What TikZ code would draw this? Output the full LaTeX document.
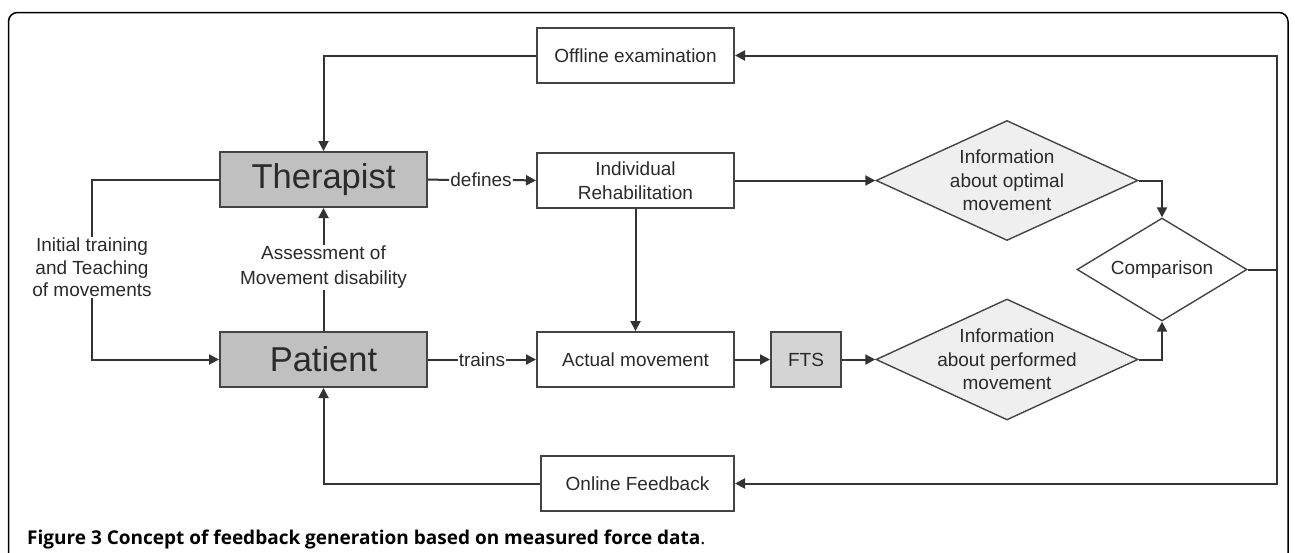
\documentclass[tikz,border=0pt]{standalone}
\usepackage{fontspec}
\setmainfont{Liberation Sans}
\newfontfamily\capfont{Open Sans}
\usetikzlibrary{arrows.meta,shapes.geometric}
\definecolor{linec}{HTML}{333333}
\definecolor{boxc}{HTML}{444444}
\definecolor{txtc}{HTML}{2A2A2A}
\definecolor{grayfill}{HTML}{C0C0C0}
\definecolor{ftsfill}{HTML}{D4D4D4}
\definecolor{diafill}{HTML}{EFEFEF}
\begin{document}
\begin{tikzpicture}[x=1pt,y=-1pt,
  txt/.style={font=\fontsize{19}{23.5}\selectfont, text=txtc, align=center},
  box/.style={txt, draw=boxc, line width=2pt, minimum width=197pt, minimum height=55pt, inner sep=0pt},
  bigbox/.style={box, fill=grayfill, minimum width=207pt, font=\fontsize{34.5}{38}\selectfont},
  dia/.style={diamond, draw=boxc, line width=1.4pt, inner sep=0pt},
  lab/.style={txt, inner sep=1pt},
  conn/.style={draw=linec, line width=2pt},
  arr/.style={conn, -{Triangle[length=10pt,width=10pt]}}
]
\useasboundingbox (0,0) rectangle (1295,552);
% frame
\draw[line width=1.5pt, rounded corners=9pt] (8.5,560) -- (8.5,12.5) -- (1288,12.5) -- (1288,560);

% nodes
\node[bigbox] (ther) at (323.5,179.5) {Therapist};
\node[bigbox] (pat) at (323.5,359.5) {Patient};
\node[box] (off) at (635.5,55.5) {Offline examination};
\node[box] (ind) at (635.5,180.5) {Individual\\Rehabilitation};
\node[box] (act) at (635.5,359.5) {Actual movement};
\node[box, minimum width=193pt] (onl) at (637.5,483.5) {Online Feedback};
\node[box, fill=ftsfill, minimum width=70pt] (fts) at (806,359.5) {FTS};

\node[dia, fill=diafill, minimum width=262pt, minimum height=120pt] (opt) at (1007,180.5) {};
\node[txt] at (opt) {Information\\about optimal\\movement};
\node[dia, fill=diafill, minimum width=262pt, minimum height=121pt] (perf) at (1007,359.5) {};
\node[txt] at (perf) {Information\\about performed\\movement};
\node[dia, fill=white, minimum width=170pt, minimum height=103pt] (cmp) at (1162,269.5) {};
\node[txt] at (cmp) {Comparison};

\node[lab, font=\fontsize{19}{22.5}\selectfont] (init) at (92,267.5) {Initial training\\and Teaching\\of movements};
\node[lab, font=\fontsize{19}{25}\selectfont] (asm) at (323.5,267.5) {Assessment of\\Movement disability};
\node[lab] (def) at (481,180) {defines};
\node[lab] (trn) at (482,359.5) {trains};
\coordinate (rt) at (1277,269.5);

% connectors
\draw[arr] (off.west) -| (ther.north);
\draw[conn] (ther.west) -| (init.north);
\draw[arr] (init.south) |- (pat.west);
\draw[arr] (asm.north) -- (ther.south);
\draw[conn] (asm.south) -- (pat.north);
\draw[conn] (ther.east) -- (def.west);
\draw[arr] (def.east) -- (ind.west);
\draw[conn] (pat.east) -- (trn.west);
\draw[arr] (trn.east) -- (act.west);
\draw[arr] (ind.south) -- (act.north);
\draw[arr] (ind.east) -- (opt.west);
\draw[arr] (act.east) -- (fts.west);
\draw[arr] (fts.east) -- (perf.west);
\draw[arr] (opt.east) -| (cmp.north);
\draw[arr] (perf.east) -| (cmp.south);
\draw[conn] (cmp.east) -- (rt);
\draw[arr] (rt) |- (off.east);
\draw[arr] (rt) |- (onl.east);
\draw[arr] (onl.west) -| (pat.south);

% caption
\node[anchor=base west, inner sep=0pt, font=\capfont\fontsize{19}{22}\selectfont] (cap) at (27,544) {\textbf{Figure 3 Concept of feedback generation based on measured force data}.};
\end{tikzpicture}
\end{document}
